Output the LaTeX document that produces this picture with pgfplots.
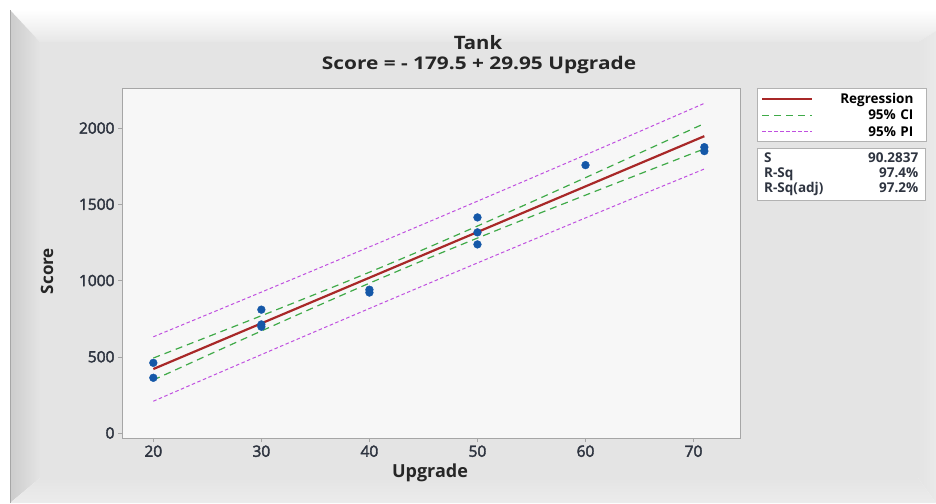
\documentclass[border=0pt]{standalone}
\usepackage{fontspec}
\setmainfont{Open Sans}
\newfontfamily\semib{Open Sans}[FakeBold=2.5]
\usepackage{graphicx}
\usepackage{pgfplots}
\pgfplotsset{compat=1.18}
\definecolor{regred}{HTML}{A82828}
\definecolor{cigreen}{HTML}{3FAA48}
\definecolor{pipurple}{HTML}{C050E0}
\definecolor{dotblue}{HTML}{1558A8}
\definecolor{ticktxt}{HTML}{2E3440}
\definecolor{face}{HTML}{E4E4E4}
\begin{document}
\begin{tikzpicture}[x=1pt,y=1pt]
\useasboundingbox (0,0) rectangle (936,503);
\fill[white] (0,0) rectangle (936,503);
% frame bevels
\shade[top color=white,bottom color=face!90!white] (10,493) -- (936,493) -- (936,472) -- (918,461) -- (40,461) -- cycle;
\shade[left color=gray!40,right color=face] (10,493) -- (40,461) -- (40,25) -- (10,0) -- cycle;
\shade[left color=face,right color=face!80!white] (918,461) -- (936,472) -- (936,0) -- (918,25) -- cycle;
\shade[top color=face,bottom color=face!70!white] (40,25) -- (918,25) -- (936,0) -- (10,0) -- cycle;
\fill[face] (40,25) rectangle (918,461);
\draw[gray!70,line width=1.2pt] (10.6,0) -- (10.6,493);
% legend frame (drawn behind the legend)
\fill[white] (757,362) rectangle (926,415);
% titles
\node[font=\fontsize{18.5}{20}\selectfont\bfseries,text=black!85] at (478,460) {\scalebox{1.1}[1]{Tank}};
\node[font=\fontsize{17.5}{19}\selectfont\bfseries,text=black!85] at (479,438) {\scalebox{1.19}[1]{Score = - 179.5 + 29.95 Upgrade}};
\node[font=\fontsize{18}{20}\selectfont\bfseries,text=black!85] at (430,30) {Upgrade};
\node[font=\fontsize{17}{19}\selectfont\bfseries,text=black!85,rotate=90] at (47,232) {Score};
\begin{axis}[
  name=ax,
  at={(122pt,65pt)}, anchor=south west,
  scale only axis, width=618pt, height=350pt,
  xmin=17.1, xmax=74.3, ymin=-33, ymax=2263,
  xtick={20,30,40,50,60,70},
  ytick={0,500,1000,1500,2000},
  tick pos=left, tick align=outside,
  major tick length=4pt,
  tick style={gray!70},
  axis line style={gray!70, line width=0.8pt},
  axis background/.style={fill=white!97!black},
  ticklabel style={font=\fontsize{15.5}{17}\semib, text=ticktxt},
  /pgf/number format/assume math mode=true,
  /pgf/number format/1000 sep={},
  clip=true,
  legend style={at={(1,1)}, anchor=north west, xshift=17pt,
    draw=none, fill=none, font=\fontsize{13.5}{16}\selectfont\bfseries,
    row sep=1pt, inner xsep=4pt, inner ysep=3pt,
    legend cell align=right, text width=98pt, align=right},
  legend image code/.code={\draw[#1] (0pt,0pt) -- (50pt,0pt);},
]
\addplot[draw=regred, line width=2.2pt] coordinates {
(20,419.5) (25,569.25) (30,719.0) (35,868.75) (40,1018.5) (45,1168.25) (50,1318.0) (55,1467.75) (60,1617.5) (65,1767.25) (71,1947.0)};
\addlegendentry{Regression}
\addplot[draw=cigreen, line width=1.2pt, dash pattern=on 7pt off 5pt, smooth] coordinates {
(20,491.4) (25,629.7) (30,769.0) (35,910.2) (40,1054.5) (45,1203.6) (50,1357.5) (55,1515.2) (60,1674.9) (65,1835.9) (71,2030.0)};
\addlegendentry{95\% CI}
\addplot[draw=pipurple, line width=1.0pt, dash pattern=on 3.5pt off 2.5pt, smooth] coordinates {
(20,630.8) (25,777.0) (30,923.9) (35,1071.8) (40,1220.4) (45,1370.1) (50,1520.6) (55,1672.1) (60,1824.3) (65,1977.5) (71,2162.3)};
\addlegendentry{95\% PI}
\addplot[draw=cigreen, line width=1.2pt, dash pattern=on 7pt off 5pt, smooth, forget plot] coordinates {
(20,347.6) (25,508.9) (30,669.0) (35,827.4) (40,982.5) (45,1132.9) (50,1278.5) (55,1420.4) (60,1560.1) (65,1698.7) (71,1864.0)};
\addplot[draw=pipurple, line width=1.0pt, dash pattern=on 3.5pt off 2.5pt, smooth, forget plot] coordinates {
(20,208.2) (25,361.6) (30,514.1) (35,665.8) (40,816.6) (45,966.5) (50,1115.4) (55,1263.5) (60,1410.7) (65,1557.1) (71,1731.7)};
\addplot[only marks, mark=*, mark size=3.9pt, dotblue, forget plot] coordinates {
(20,460) (20,362) (30,809) (30,697) (30,712) (40,940) (40,921) (50,1414) (50,1316) (50,1237) (60,1757) (71,1875) (71,1849)};
\end{axis}
\draw[gray!60, line width=0.8pt] (757,362) rectangle (926,415);
\node[draw=gray!60, fill=white, anchor=north west, inner xsep=7pt, inner ysep=3pt,
  font=\fontsize{13.5}{16.5}\selectfont\bfseries, text=ticktxt] at (757,355) {%
  \begin{tabular*}{154pt}{@{}l@{\extracolsep{\fill}}r@{}}
  S & 90.2837\\[-1.5pt]
  R-Sq & 97.4\%\\[-1.5pt]
  R-Sq(adj) & 97.2\%
  \end{tabular*}};
\end{tikzpicture}
\end{document}
